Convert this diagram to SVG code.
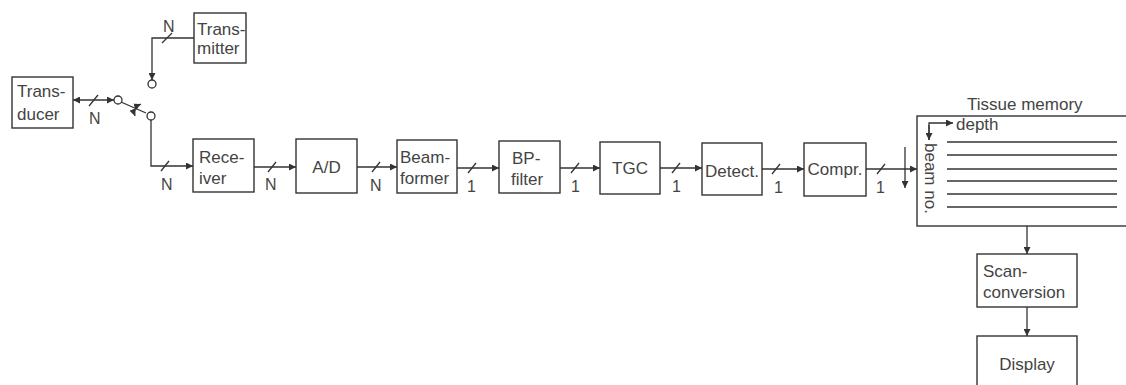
<svg xmlns="http://www.w3.org/2000/svg" width="1126" height="385" viewBox="0 0 1126 385">
<defs>
<marker id="ah" viewBox="0 0 10 10" refX="10" refY="5" markerWidth="7" markerHeight="7" markerUnits="userSpaceOnUse" orient="auto-start-reverse">
<path d="M0,0 L10,5 L0,10 z" fill="#333"/>
</marker>
<style>
.box{fill:#fff;stroke:#333;stroke-width:1.4}
.ln{fill:none;stroke:#333;stroke-width:1.3}
.arr{fill:none;stroke:#333;stroke-width:1.3;marker-end:url(#ah)}
.t{font-family:"Liberation Sans",Arial,sans-serif;font-size:17px;fill:#444}
.lb{font-family:"Liberation Sans",Arial,sans-serif;font-size:16px;fill:#444}
.c{fill:#fff;stroke:#333;stroke-width:1.3}
</style>
</defs>
<rect width="1126" height="385" fill="#fff"/>

<g id="connectors">
<!-- transducer to switch -->
<line class="ln" x1="73" y1="100" x2="114" y2="100" marker-start="url(#ah)" marker-end="url(#ah)"/>
<line class="ln" x1="89" y1="106" x2="98" y2="95"/>
<!-- transmitter to switch -->
<polyline class="arr" points="194,38 152,38 152,80"/>
<line class="ln" x1="162" y1="43" x2="172" y2="33"/>
<!-- switch lever -->
<line class="ln" x1="121" y1="102" x2="146" y2="113"/>
<path class="ln" d="M141,104 Q132,108 135,116" marker-start="url(#ah)" marker-end="url(#ah)"/>
<!-- switch to receiver -->
<polyline class="arr" points="151,120 151,166 193,166"/>
<line class="ln" x1="161" y1="171" x2="169" y2="161"/>
<!-- chain -->
<line class="arr" x1="254" y1="167" x2="296" y2="167"/>
<line class="ln" x1="268" y1="172" x2="276" y2="162"/>
<line class="arr" x1="357" y1="167" x2="397" y2="167"/>
<line class="ln" x1="372" y1="172" x2="380" y2="162"/>
<line class="arr" x1="457" y1="168" x2="499" y2="168"/>
<line class="ln" x1="468" y1="173" x2="476" y2="163"/>
<line class="arr" x1="560" y1="168" x2="600" y2="168"/>
<line class="ln" x1="571" y1="173" x2="579" y2="163"/>
<line class="arr" x1="660" y1="168" x2="702" y2="168"/>
<line class="ln" x1="672" y1="173" x2="680" y2="163"/>
<line class="arr" x1="762" y1="169" x2="804" y2="169"/>
<line class="ln" x1="772" y1="174" x2="780" y2="164"/>
<line class="arr" x1="866" y1="169" x2="917" y2="169"/>
<line class="ln" x1="877" y1="174" x2="885" y2="164"/>
<line class="arr" x1="905" y1="147" x2="905" y2="188"/>
<!-- memory to scan conversion to display -->
<line class="arr" x1="1027" y1="226" x2="1027" y2="254"/>
<line class="arr" x1="1027" y1="307" x2="1027" y2="336"/>
</g>

<g id="switch">
<circle class="c" cx="118" cy="100" r="4"/>
<circle class="c" cx="151" cy="116" r="4"/>
<circle class="c" cx="152" cy="84" r="4"/>
</g>

<g id="labels">
<text class="lb" x="89" y="124">N</text>
<text class="lb" x="163" y="32">N</text>
<text class="lb" x="161" y="190">N</text>
<text class="lb" x="265" y="190">N</text>
<text class="lb" x="370" y="191">N</text>
<text class="lb" x="467" y="192">1</text>
<text class="lb" x="571" y="192">1</text>
<text class="lb" x="672" y="192">1</text>
<text class="lb" x="774" y="193">1</text>
<text class="lb" x="876" y="193">1</text>
</g>

<g id="transducer">
<rect class="box" x="12" y="77" width="61" height="51"/>
<text class="t" x="17" y="97">Trans-</text>
<text class="t" x="17" y="120">ducer</text>
</g>

<g id="transmitter">
<rect class="box" x="194" y="13" width="52" height="50"/>
<text class="t" x="197" y="35">Trans-</text>
<text class="t" x="197" y="54">mitter</text>
</g>

<g id="receiver">
<rect class="box" x="193" y="139" width="61" height="53"/>
<text class="t" x="199" y="163">Rece-</text>
<text class="t" x="199" y="184">iver</text>
</g>

<g id="ad">
<rect class="box" x="296" y="139" width="61" height="54"/>
<text class="t" x="326.5" y="173" text-anchor="middle">A/D</text>
</g>

<g id="beamformer">
<rect class="box" x="397" y="140" width="60" height="53"/>
<text class="t" x="400" y="163">Beam-</text>
<text class="t" x="400" y="184">former</text>
</g>

<g id="bpfilter">
<rect class="box" x="499" y="141" width="61" height="52"/>
<text class="t" x="512" y="164">BP-</text>
<text class="t" x="511" y="185">filter</text>
</g>

<g id="tgc">
<rect class="box" x="600" y="142" width="60" height="52"/>
<text class="t" x="630" y="174" text-anchor="middle">TGC</text>
</g>

<g id="detect">
<rect class="box" x="702" y="143" width="60" height="52"/>
<text class="t" x="732" y="177" text-anchor="middle">Detect.</text>
</g>

<g id="compr">
<rect class="box" x="804" y="143" width="62" height="53"/>
<text class="t" x="835" y="175" text-anchor="middle">Compr.</text>
</g>

<g id="tissue-memory">
<text class="t" x="967" y="110">Tissue memory</text>
<rect class="box" x="917" y="116" width="230" height="110"/>
<polyline class="arr" points="929,140 929,123 953,123"/>
<line class="ln" x1="929" y1="125" x2="929" y2="140" marker-end="url(#ah)"/>
<text class="t" x="956" y="130">depth</text>
<text class="t" transform="translate(925,143) rotate(90)">beam no.</text>
<g class="ln">
<line x1="947" y1="142" x2="1117" y2="142"/>
<line x1="947" y1="155" x2="1117" y2="155"/>
<line x1="947" y1="169" x2="1117" y2="169"/>
<line x1="947" y1="181" x2="1117" y2="181"/>
<line x1="947" y1="194" x2="1117" y2="194"/>
<line x1="947" y1="207" x2="1117" y2="207"/>
</g>
</g>

<g id="scan-conversion">
<rect class="box" x="977" y="254" width="100" height="53"/>
<text class="t" x="983" y="277">Scan-</text>
<text class="t" x="983" y="298">conversion</text>
</g>

<g id="display">
<rect class="box" x="977" y="336" width="100" height="60"/>
<text class="t" x="1027" y="370" text-anchor="middle">Display</text>
</g>
</svg>
